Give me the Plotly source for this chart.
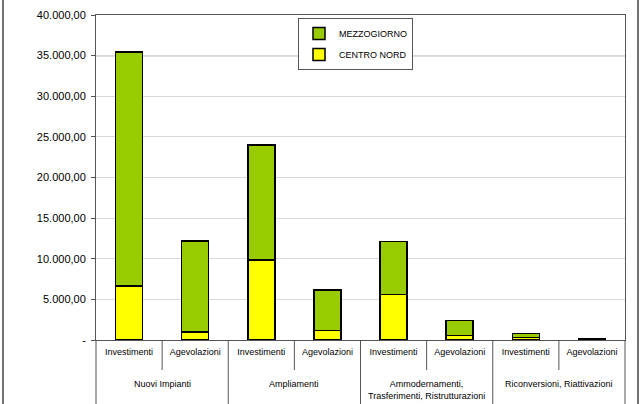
import plotly.graph_objects as go

group_names = ["Nuovi Impianti", "Ampliamenti",
               "Ammodernamenti,<br>Trasferimenti, Ristrutturazioni",
               "Riconversioni, Riattivazioni"]
sub_names = ["Investimenti", "Agevolazioni"]

groups = [g for g in group_names for _ in sub_names]
subcats = sub_names * len(group_names)
x_keys = [f"{g} | {s}" for g, s in zip(groups, subcats)]

centro_nord = [6650, 990, 9850, 1180, 5620, 580, 330, 60]
mezzogiorno = [28800, 11210, 14150, 4970, 6480, 1800, 450, 140]

y_tickvals = [0, 5000, 10000, 15000, 20000, 25000, 30000, 35000, 40000]
y_ticktext = ["-", "5.000,00", "10.000,00", "15.000,00", "20.000,00",
              "25.000,00", "30.000,00", "35.000,00", "40.000,00"]

FONT = "Liberation Sans, Arial, sans-serif"

fig = go.Figure()
fig.add_trace(go.Bar(x=x_keys, y=centro_nord, name="CENTRO NORD",
                     marker=dict(color="#ffff00", line=dict(color="#000000", width=1.5)),
                     legendgroup="cn", legendrank=2))
fig.add_trace(go.Bar(x=x_keys, y=mezzogiorno, name="MEZZOGIORNO",
                     marker=dict(color="#99cc00", line=dict(color="#000000", width=1.5)),
                     legendgroup="mz", legendrank=1))

W, H = 643, 404
L, R, T, B = 96, 18, 15, 64
pw, ph = W - L - R, H - T - B
n = len(x_keys)
DIV = "#555555"

shapes = []
# dividers: short ones within groups, long ones between groups
for i in range(n + 1):
    xp = i / n
    long_div = (i % len(sub_names) == 0)
    shapes.append(dict(type="line", xref="paper", yref="paper", x0=xp, x1=xp,
                       y0=0, y1=-(70 if long_div else 30) / ph,
                       line=dict(color=DIV, width=1)))
# darker 35000 line
shapes.append(dict(type="line", xref="paper", yref="y", x0=0, x1=1, y0=35000, y1=35000,
                   line=dict(color="#808080", width=1.2), layer="below"))
# outer chart border
shapes.append(dict(type="rect", xref="paper", yref="paper",
                   x0=(3 - L) / pw, x1=(638 - L) / pw,
                   y0=-(B + 10) / ph, y1=1 + (T + 10) / ph,
                   line=dict(color="#444444", width=1.5), fillcolor="rgba(0,0,0,0)"))

annotations = []
for k, g in enumerate(group_names):
    xc = (k * len(sub_names) + (len(sub_names) - 1) / 2)
    annotations.append(dict(x=xc, xref="x", y=-(377 - 340) / ph, yref="paper",
                            yanchor="top", xanchor="center", text=g, showarrow=False,
                            font=dict(family=FONT, size=9, color="#000000"),
                            align="center"))

fig.update_layout(
    width=W, height=H,
    margin=dict(l=L, r=R, t=T, b=B, autoexpand=False),
    barmode="stack",
    bargap=0.59,
    paper_bgcolor="white",
    plot_bgcolor="white",
    font=dict(family=FONT, size=9, color="#000000"),
    showlegend=True,
    legend=dict(x=(298 - L) / pw, y=(340 - 18) / ph, xanchor="left", yanchor="top",
                bgcolor="white", bordercolor="#555555", borderwidth=1,
                font=dict(family=FONT, size=9), traceorder="grouped",
                tracegroupgap=2, itemwidth=30),
    shapes=shapes,
    annotations=annotations,
)
fig.update_xaxes(
    tickvals=x_keys, ticktext=subcats,
    showline=True, linecolor=DIV, linewidth=1, mirror=True,
    showgrid=False, ticks="", ticklabelstandoff=3,
    tickfont=dict(family=FONT, size=9), automargin=False,
)
fig.update_yaxes(
    range=[0, 40000], tickvals=y_tickvals, ticktext=y_ticktext,
    showline=True, linecolor=DIV, linewidth=1, mirror=True,
    showgrid=True, gridcolor="#d9d9d9", gridwidth=1,
    ticks="outside", ticklen=4, tickcolor=DIV, ticklabelstandoff=3,
    tickfont=dict(family=FONT, size=11), zeroline=False, automargin=False,
)

fig.write_html("out.html", config={"displayModeBar": False},
               post_script="document.body.style.margin='0';")
